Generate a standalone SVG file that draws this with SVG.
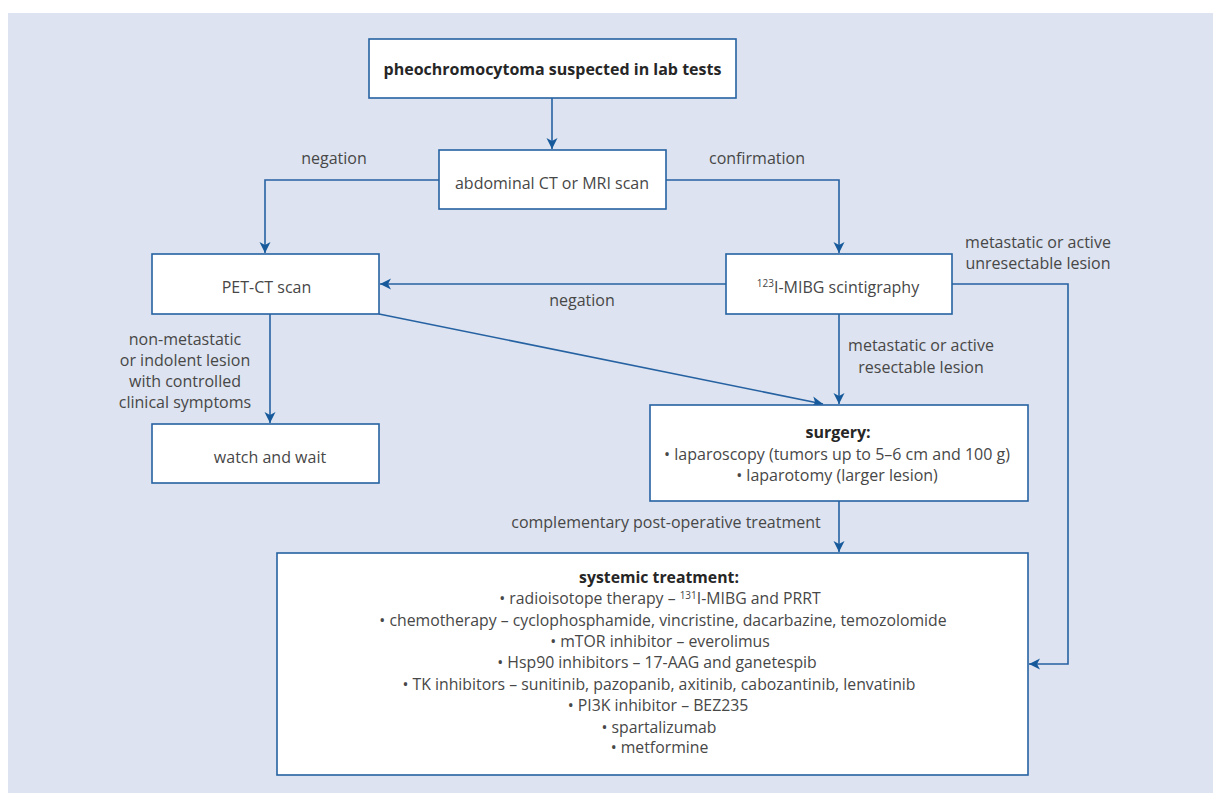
<svg xmlns="http://www.w3.org/2000/svg" width="1213" height="793" viewBox="0 0 1213 793">
<style>
.box{fill:#ffffff;stroke:#2662a2;stroke-width:1.6}
.ln{fill:none;stroke:#2662a2;stroke-width:1.6}
.t{font-family:"Open Sans","Noto Sans",sans-serif;font-size:16px;fill:#474747}
.c{text-anchor:middle}
.b{font-weight:bold;fill:#262626}
.s{font-size:15.8px}
</style>
<defs>
<marker id="ah" markerWidth="12" markerHeight="12" viewBox="0 0 12 12" refX="11" refY="6" orient="auto" markerUnits="userSpaceOnUse">
<path d="M0,0.5 L11,6 L0,11.5 L3,6 Z" fill="#175a9c"/>
</marker>
</defs>
<rect x="8" y="13" width="1205" height="780" fill="#dde3f0"/>
<g id="connectors">
<path class="ln" d="M552,98 V149" marker-end="url(#ah)"/>
<path class="ln" d="M439,180 H265 V253" marker-end="url(#ah)"/>
<path class="ln" d="M666,180 H839 V253" marker-end="url(#ah)"/>
<path class="ln" d="M726,284 H380" marker-end="url(#ah)"/>
<path class="ln" d="M952,284 H1068 V664 H1029" marker-end="url(#ah)"/>
<path class="ln" d="M839,314 V404" marker-end="url(#ah)"/>
<path class="ln" d="M379,314 L823,404" marker-end="url(#ah)"/>
<path class="ln" d="M270,314 V423" marker-end="url(#ah)"/>
<path class="ln" d="M839,501 V552" marker-end="url(#ah)"/>
<text class="t c" x="334" y="164">negation</text>
<text class="t c" x="757" y="164">confirmation</text>
<text class="t c" x="582" y="306">negation</text>
<text class="t c" x="1038" y="248">metastatic or active</text>
<text class="t c" x="1038" y="269">unresectable lesion</text>
<text class="t c" x="921" y="351">metastatic or active</text>
<text class="t c" x="921" y="373">resectable lesion</text>
<text class="t c" x="185" y="345">non-metastatic</text>
<text class="t c" x="185" y="366">or indolent lesion</text>
<text class="t c" x="185" y="387">with controlled</text>
<text class="t c" x="185" y="408">clinical symptoms</text>
<text class="t c" x="666" y="528">complementary post-operative treatment</text>
</g>
<g id="node-suspected">
<rect class="box" x="369" y="39" width="367" height="59"/>
<text class="t c b" x="552.5" y="75">pheochromocytoma suspected in lab tests</text>
</g>
<g id="node-abdominal">
<rect class="box" x="439" y="150" width="227" height="59"/>
<text class="t c" x="552" y="189">abdominal CT or MRI scan</text>
</g>
<g id="node-pet">
<rect class="box" x="152" y="254" width="227" height="60"/>
<text class="t c" x="266.5" y="293">PET-CT scan</text>
</g>
<g id="node-mibg">
<rect class="box" x="726" y="254" width="226" height="60"/>
<text class="t c" x="838" y="293"><tspan font-size="10" dy="-6">123</tspan><tspan dy="6">I-MIBG scintigraphy</tspan></text>
</g>
<g id="node-watch">
<rect class="box" x="152" y="424" width="227" height="59"/>
<text class="t c" x="270" y="463">watch and wait</text>
</g>
<g id="node-surgery">
<rect class="box" x="650" y="405" width="378" height="96"/>
<text class="t c b" x="838" y="438">surgery:</text>
<text class="t c" x="837" y="460">• laparoscopy (tumors up to 5–6 cm and 100 g)</text>
<text class="t c" x="837" y="481">• laparotomy (larger lesion)</text>
</g>
<g id="node-systemic">
<rect class="box" x="277" y="553" width="751" height="222"/>
<text class="t c b s" x="659" y="583">systemic treatment:</text>
<text class="t c s" x="660" y="604">• radioisotope therapy – <tspan font-size="10" dy="-5">131</tspan><tspan dy="5">I-MIBG and PRRT</tspan></text>
<text class="t c s" x="663" y="626">• chemotherapy – cyclophosphamide, vincristine, dacarbazine, temozolomide</text>
<text class="t c s" x="660" y="647">• mTOR inhibitor – everolimus</text>
<text class="t c s" x="657" y="668">• Hsp90 inhibitors – 17-AAG and ganetespib</text>
<text class="t c s" x="659" y="690">• TK inhibitors – sunitinib, pazopanib, axitinib, cabozantinib, lenvatinib</text>
<text class="t c s" x="658" y="711">• PI3K inhibitor – BEZ235</text>
<text class="t c s" x="659" y="733">• spartalizumab</text>
<text class="t c s" x="659.5" y="753">• metformine</text>
</g>
</svg>
